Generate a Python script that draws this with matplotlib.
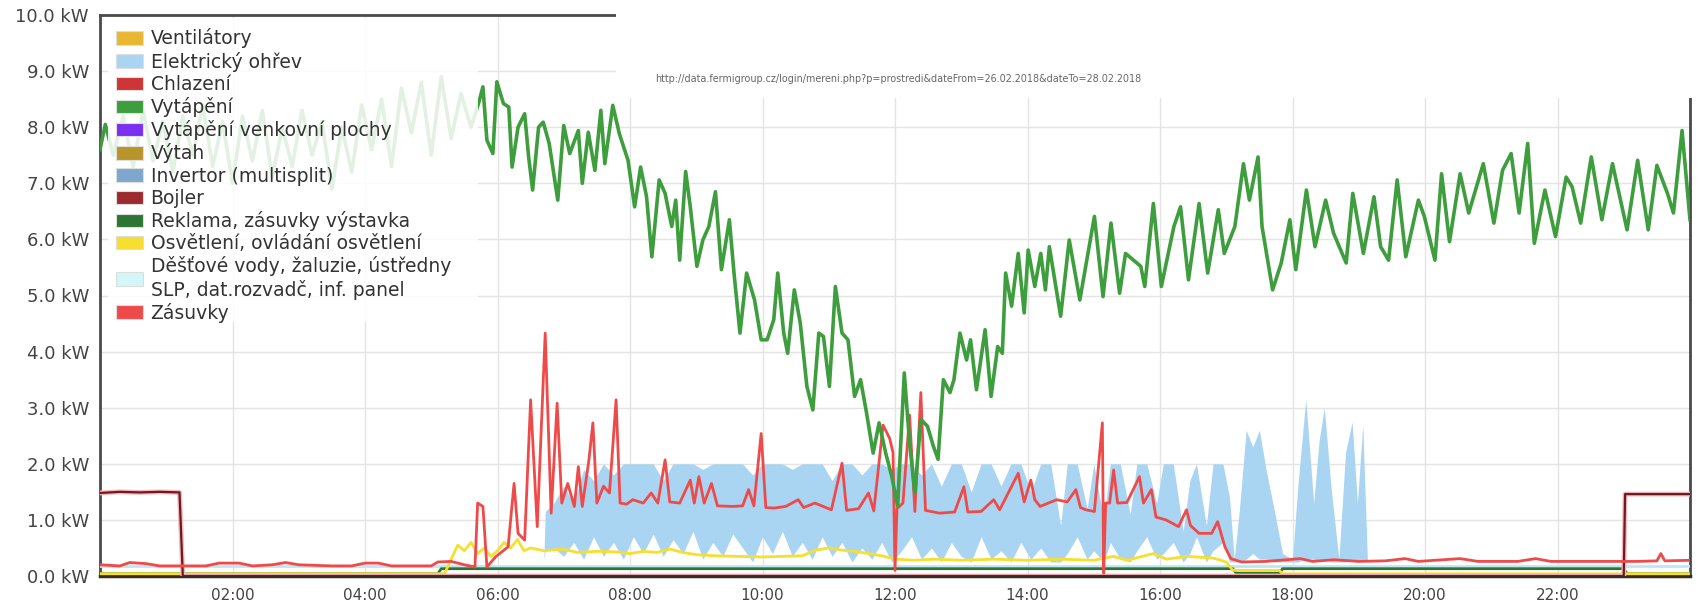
import matplotlib
matplotlib.use("Agg")
import matplotlib.pyplot as plt
from matplotlib.patches import Patch, Rectangle

# time in hours, power in kW

# Vytápění
heat_t = [0.0, 0.08, 0.2, 0.35, 0.5, 0.65, 0.8, 0.95, 1.1, 1.25, 1.4, 1.55, 1.7, 1.85,
          2.0, 2.15, 2.3, 2.45, 2.6, 2.75, 2.9, 3.05, 3.2, 3.35, 3.5, 3.65, 3.8, 3.95,
          4.1, 4.25, 4.4, 4.55, 4.7, 4.85, 5.0, 5.15, 5.3, 5.45, 5.6,
          5.72, 5.78, 5.84, 5.93, 5.99, 6.09, 6.17, 6.22, 6.31, 6.41, 6.47, 6.53, 6.62,
          6.69, 6.78, 6.91, 7.00, 7.09, 7.22, 7.28, 7.37, 7.47, 7.56, 7.62, 7.74, 7.84,
          7.97, 8.07, 8.16, 8.25, 8.33, 8.44, 8.53, 8.63, 8.69, 8.75, 8.84, 8.91, 9.01,
          9.10, 9.19, 9.29, 9.38, 9.50, 9.57, 9.66, 9.76, 9.88, 9.98, 10.07, 10.17,
          10.23, 10.32, 10.38, 10.48, 10.57, 10.67, 10.76, 10.85, 10.92, 11.01, 11.10,
          11.20, 11.29, 11.39, 11.48, 11.57, 11.67, 11.76, 11.86, 11.95, 12.04, 12.14,
          12.22, 12.30, 12.39, 12.49, 12.58, 12.65, 12.73, 12.83, 12.89, 12.98, 13.08,
          13.14, 13.23, 13.36, 13.45, 13.55, 13.62, 13.67, 13.76, 13.86, 13.95, 14.01,
          14.11, 14.2, 14.27, 14.33, 14.50, 14.63, 14.79, 15.01, 15.14, 15.26, 15.39,
          15.48, 15.71, 15.77, 15.90, 16.02, 16.21, 16.31, 16.43, 16.59, 16.72, 16.88,
          16.97, 17.13, 17.26, 17.35, 17.48, 17.54, 17.70, 17.83, 17.96, 18.05, 18.21,
          18.34, 18.50, 18.62, 18.81, 18.91, 19.07, 19.23, 19.33, 19.45, 19.58, 19.71,
          19.90, 19.99, 20.15, 20.25, 20.37, 20.53, 20.66, 20.88, 21.04, 21.17, 21.30,
          21.42, 21.55, 21.65, 21.81, 21.97, 22.13, 22.22, 22.35, 22.51, 22.67, 22.83,
          23.05, 23.21, 23.37, 23.50, 23.66, 23.75, 23.88, 24.0]
heat_v = [7.6, 8.05, 7.5, 8.2, 7.3, 8.3, 7.4, 8.1, 7.2, 8.2, 7.5, 8.4, 7.3, 8.1,
          7.0, 8.2, 7.4, 8.3, 7.1, 8.0, 7.3, 8.3, 7.5, 8.1, 6.9, 8.0, 7.2, 8.4,
          7.6, 8.5, 7.3, 8.7, 7.9, 8.8, 7.5, 8.9, 7.8, 8.6, 8.0,
          8.45, 8.72, 7.77, 7.53, 8.81, 8.42, 8.36, 7.29, 8.00, 8.24, 7.47, 6.88, 8.00,
          8.09, 7.71, 6.70, 8.03, 7.53, 7.94, 7.00, 7.91, 7.23, 8.30, 7.35, 8.39, 7.88,
          7.41, 6.58, 7.29, 6.76, 5.69, 7.06, 6.82, 6.23, 6.70, 5.63, 7.21, 6.58, 5.52,
          5.99, 6.23, 6.85, 5.46, 6.35, 5.40, 4.33, 5.40, 4.92, 4.21, 4.21, 4.57,
          5.40, 4.33, 3.97, 5.10, 4.51, 3.38, 2.96, 4.33, 4.27, 3.38, 5.16,
          4.33, 4.21, 3.20, 3.50, 2.91, 2.19, 2.73, 2.19, 1.78, 1.25, 3.62,
          2.37, 1.48, 2.79, 2.67, 2.31, 2.08, 3.50, 3.27, 3.50, 4.33, 3.85,
          4.21, 3.32, 4.39, 3.20, 4.09, 3.97, 5.40, 4.81, 5.75, 4.69, 5.81,
          5.16, 5.75, 5.10, 5.87, 4.63, 5.99, 4.92, 6.41, 4.98, 6.29, 5.04,
          5.75, 5.52, 5.16, 6.64, 5.16, 6.23, 6.58, 5.28, 6.64, 5.40, 6.53,
          5.75, 6.23, 7.35, 6.70, 7.47, 6.23, 5.10, 5.58, 6.35, 5.46, 6.88,
          5.87, 6.70, 6.11, 5.58, 6.82, 5.75, 6.76, 5.87, 5.63, 7.06, 5.69,
          6.70, 6.41, 5.63, 7.17, 5.96, 7.17, 6.47, 7.35, 6.29, 7.23, 7.53,
          6.47, 7.71, 5.93, 6.88, 6.05, 7.11, 6.94, 6.29, 7.47, 6.35, 7.35,
          6.17, 7.41, 6.17, 7.32, 6.82, 6.47, 7.94, 6.35]

# Zásuvky
sock_t = [0.0, 0.3, 0.45, 0.7, 0.9, 1.2, 1.6, 1.8, 2.1, 2.3, 2.6, 2.8, 3.0, 3.5, 3.8,
          4.0, 4.2, 4.4, 4.7, 5.0, 5.1, 5.3, 5.5, 5.66, 5.7, 5.78, 5.84, 5.97, 6.16,
          6.25, 6.31, 6.41, 6.5, 6.6, 6.72, 6.81, 6.9, 6.97, 7.06, 7.16, 7.22, 7.28,
          7.38, 7.44, 7.5, 7.6, 7.69, 7.79, 7.85, 7.95, 8.04, 8.2, 8.32, 8.42, 8.53,
          8.6, 8.75, 8.91, 8.97, 9.04, 9.12, 9.23, 9.32, 9.55, 9.7, 9.79, 9.87, 9.98,
          10.05, 10.17, 10.35, 10.54, 10.62, 10.79, 11.04, 11.2, 11.27, 11.45, 11.6,
          11.68, 11.82, 11.92, 11.97, 12.0, 12.03, 12.12, 12.22, 12.3, 12.39, 12.46,
          12.67, 12.9, 13.04, 13.1, 13.3, 13.49, 13.58, 13.86, 13.95, 14.05, 14.11,
          14.19, 14.44, 14.6, 14.73, 14.8, 14.88, 15.01, 15.13, 15.15, 15.18, 15.24,
          15.3, 15.36, 15.5, 15.69, 15.75, 15.87, 15.94, 16.09, 16.28, 16.4, 16.46,
          16.59, 16.78, 16.87, 16.98, 17.07, 17.23, 17.6, 18.12, 18.3, 18.63, 19.0,
          19.4, 19.7, 19.9, 20.53, 20.8, 21.4, 21.67, 21.9, 23.2, 23.5, 23.56, 23.62,
          24.0]
sock_v = [0.2, 0.18, 0.24, 0.22, 0.18, 0.18, 0.18, 0.23, 0.23, 0.18, 0.2, 0.24, 0.2,
          0.18, 0.18, 0.23, 0.23, 0.18, 0.18, 0.18, 0.25, 0.26, 0.2, 0.16, 1.3, 1.24,
          0.16, 0.34, 0.52, 1.65, 0.76, 0.64, 3.14, 0.88, 4.33, 1.12, 3.08, 1.3, 1.65,
          1.24, 1.95, 1.24, 2.07, 2.73, 1.3, 1.6, 1.48, 3.14, 1.3, 1.28, 1.36, 1.3,
          1.48, 1.3, 2.07, 1.32, 1.3, 1.71, 1.3, 1.77, 1.3, 1.65, 1.25, 1.24, 1.25,
          1.54, 1.25, 2.54, 1.22, 1.21, 1.24, 1.36, 1.22, 1.3, 1.18, 2.01, 1.17, 1.2,
          1.48, 1.16, 2.69, 2.45, 2.2, 0.1, 1.2, 1.3, 2.87, 1.15, 3.27, 1.17, 1.12,
          1.14, 1.59, 1.14, 1.15, 1.36, 1.18, 1.83, 1.32, 1.71, 1.36, 1.24, 1.36,
          1.32, 1.54, 1.22, 1.18, 1.15, 2.73, 0.05, 1.3, 1.3, 1.89, 1.3, 1.31, 1.77,
          1.3, 1.54, 1.05, 1.0, 0.88, 1.18, 0.9, 0.76, 0.76, 0.97, 0.52, 0.31, 0.25,
          0.26, 0.31, 0.26, 0.29, 0.26, 0.27, 0.31, 0.26, 0.31, 0.26, 0.26, 0.31, 0.26,
          0.26, 0.27, 0.4, 0.27, 0.28]

# Elektrický ohřev (upper / lower edge of the dense band)
elec_t = [6.70, 6.72, 6.85, 7.0, 7.15, 7.3, 7.45, 7.6, 7.75, 7.9, 8.05, 8.2, 8.35, 8.5,
          8.65, 8.8, 8.95, 9.1, 9.25, 9.4, 9.55, 9.7, 9.85, 10.0, 10.15, 10.3, 10.45,
          10.6, 10.75, 10.9, 11.05, 11.2, 11.35, 11.5, 11.65, 11.8, 11.95, 12.1, 12.25,
          12.4, 12.55, 12.7, 12.85, 13.0, 13.15, 13.3, 13.45, 13.6, 13.75, 13.9, 14.05,
          14.2, 14.35, 14.5, 14.6, 14.75, 14.9, 15.0, 15.15, 15.25, 15.4, 15.55, 15.65,
          15.8, 15.95, 16.05, 16.2, 16.35, 16.45, 16.55, 16.7, 16.8, 16.95, 17.05,
          17.12, 17.2, 17.3, 17.4, 17.5, 17.6, 17.72, 17.85, 18.0, 18.08, 18.2, 18.32,
          18.4, 18.48, 18.58, 18.7, 18.8, 18.9, 18.98, 19.06, 19.13]
elec_hi = [0.3, 1.15, 1.3, 1.6, 1.3, 1.9, 1.7, 2.0, 1.8, 2.0, 2.0, 2.0, 2.0, 1.7,
           2.0, 2.0, 2.0, 1.9, 2.0, 2.0, 2.0, 2.0, 1.8, 2.0, 2.0, 2.0, 1.9,
           2.0, 2.0, 2.0, 1.7, 2.0, 2.0, 1.8, 2.0, 2.0, 1.9, 2.0, 2.0,
           1.8, 2.0, 1.6, 2.0, 2.0, 1.5, 2.0, 2.0, 1.6, 2.0, 2.0, 1.5,
           2.0, 2.0, 0.9, 2.0, 2.0, 1.2, 2.0, 1.0, 2.0, 2.0, 1.1, 2.0,
           2.0, 1.3, 2.0, 2.0, 0.8, 1.7, 2.0, 0.9, 2.0, 2.0, 1.4,
           0.3, 1.2, 2.6, 2.3, 2.6, 1.9, 1.2, 0.4, 0.3, 1.6, 3.15, 1.3,
           2.4, 3.0, 1.6, 0.3, 2.2, 2.75, 1.3, 2.7, 0.3]
elec_lo = [0.3, 0.45, 0.5, 0.35, 0.6, 0.3, 0.7, 0.35, 0.6, 0.3, 0.7, 0.4, 0.75, 0.35,
           0.65, 0.4, 0.8, 0.3, 0.6, 0.35, 0.75, 0.5, 0.25, 0.7, 0.4, 0.8, 0.35,
           0.6, 0.3, 0.7, 0.35, 0.6, 0.25, 0.5, 0.3, 0.6, 0.25, 0.45, 0.7,
           0.3, 0.5, 0.25, 0.6, 0.35, 0.25, 0.7, 0.3, 0.45, 0.25, 0.6, 0.3,
           0.5, 0.25, 0.25, 0.4, 0.7, 0.3, 0.45, 0.25, 0.6, 0.3, 0.25, 0.45,
           0.7, 0.3, 0.4, 0.6, 0.25, 0.4, 0.7, 0.25, 0.45, 0.6, 0.25,
           0.25, 0.25, 0.3, 0.4, 0.3, 0.3, 0.25, 0.25, 0.25, 0.25, 0.3, 0.3,
           0.25, 0.3, 0.25, 0.25, 0.25, 0.3, 0.25, 0.3, 0.25]

# Osvětlení, ovládání osvětlení
light_t = [0.0, 5.2, 5.3, 5.4, 5.5, 5.6, 5.7, 5.8, 5.9, 6.0, 6.1, 6.2, 6.3, 6.4, 6.5,
           6.7, 7.0, 7.2, 7.5, 7.8, 8.0, 8.2, 8.4, 8.6, 8.8, 9.0, 9.3, 9.6, 10.0, 10.3,
           10.6, 10.8, 11.0, 11.2, 11.4, 11.6, 11.8, 12.0, 12.3, 12.6, 13.0, 13.5, 14.0,
           14.5, 15.0, 15.3, 15.5, 15.9, 16.1, 16.4, 16.8, 17.0, 17.1, 17.8, 17.85, 24.0]
light_v = [0.04, 0.04, 0.3, 0.55, 0.45, 0.6, 0.4, 0.5, 0.35, 0.45, 0.6, 0.5, 0.65, 0.45,
           0.5, 0.45, 0.48, 0.42, 0.44, 0.43, 0.40, 0.44, 0.42, 0.48, 0.42, 0.38, 0.36,
           0.35, 0.34, 0.35, 0.36, 0.46, 0.5, 0.46, 0.44, 0.40, 0.36, 0.30, 0.28, 0.30,
           0.28, 0.30, 0.28, 0.30, 0.28, 0.35, 0.28, 0.4, 0.3, 0.35, 0.32, 0.25, 0.1,
           0.1, 0.04, 0.04]

# Reklama, zásuvky výstavka
adv_t = [0.0, 5.1, 5.15, 17.1, 17.15, 17.8, 17.85, 23.0, 23.05, 24.0]
adv_v = [0.04, 0.04, 0.13, 0.13, 0.05, 0.05, 0.13, 0.13, 0.04, 0.04]

# Bojler
boiler_t = [0.0, 0.3, 0.6, 0.9, 1.2, 1.25, 23.0, 23.02, 24.0]
boiler_v = [1.48, 1.5, 1.49, 1.5, 1.49, 0.0, 0.0, 1.46, 1.46]

# Děšťové vody, žaluzie, ústředny SLP, dat.rozvadč, inf. panel
rain_t = [0.0, 24.0]
rain_v = [0.17, 0.17]

# series that stay at zero all day
zero_t = [0.0, 24.0]
zero_v = [0.0, 0.0]

labels = ["Ventilátory", "Elektrický ohřev", "Chlazení", "Vytápění",
          "Vytápění venkovní plochy", "Výtah", "Invertor (multisplit)", "Bojler",
          "Reklama, zásuvky výstavka", "Osvětlení, ovládání osvětlení",
          "Děšťové vody, žaluzie, ústředny\nSLP, dat.rozvadč, inf. panel", "Zásuvky"]
colors = ["#e9b731", "#a9d5f2", "#cf3535", "#3e9e3e", "#7b2ff0", "#b8952b",
          "#7fa6cc", "#9c2a2e", "#2e7533", "#f6df2e", "#d3f6f8", "#ef4a4a"]

hours = [2, 4, 6, 8, 10, 12, 14, 16, 18, 20, 22]
kw_ticks = [0, 1, 2, 3, 4, 5, 6, 7, 8, 9, 10]
url = "http://data.fermigroup.cz/login/mereni.php?p=prostredi&dateFrom=26.02.2018&dateTo=28.02.2018"

fig = plt.figure(figsize=(16.98, 6.01), dpi=100)
ax = fig.add_axes([100 / 1698, 25 / 601, 1590 / 1698, 561 / 601])

ax.plot(zero_t, zero_v, color=colors[0], lw=2)
ax.plot(zero_t, zero_v, color=colors[2], lw=2)
ax.plot(zero_t, zero_v, color=colors[4], lw=2)
ax.plot(zero_t, zero_v, color=colors[5], lw=2)
ax.plot(zero_t, zero_v, color=colors[6], lw=2)
ax.fill_between(elec_t, elec_lo, elec_hi, color=colors[1], lw=0, zorder=2)
ax.plot(rain_t, rain_v, color="#bfe6f2", lw=2, zorder=3)
ax.plot(adv_t, adv_v, color=colors[8], lw=2, zorder=3)
ax.plot(light_t, light_v, color=colors[9], lw=2, zorder=3)
ax.plot(boiler_t, boiler_v, color="#f2b8bd", lw=3.5, zorder=3)
ax.plot(boiler_t, boiler_v, color="#6e1a20", lw=1.6, zorder=3)
ax.plot(sock_t, sock_v, color=colors[11], lw=2, zorder=4)
ax.plot(heat_t, heat_v, color=colors[3], lw=2.6, zorder=5)

ax.set_xlim(0, 24)
ax.set_ylim(0, 10)
ax.set_xticks(hours)
ax.set_xticklabels(["%02d:00" % h for h in hours])
ax.set_yticks(kw_ticks)
ax.set_yticklabels(["%.1f kW" % k for k in kw_ticks])
ax.tick_params(length=0, colors="#444444")
ax.tick_params(axis="x", labelsize=11, pad=9)
ax.tick_params(axis="y", labelsize=13, pad=8)
ax.grid(True, color="#e4e4e4", lw=1)
ax.set_axisbelow(True)
for side in ["left", "right", "top"]:
    ax.spines[side].set_color("#4a4a4a")
    ax.spines[side].set_linewidth(2)
ax.spines["bottom"].set_color("#3a2a2a")
ax.spines["bottom"].set_linewidth(2.5)

# semi-transparent legend background
ax.add_patch(Rectangle((0.005, 0.452), 0.233, 0.542, transform=ax.transAxes,
                       facecolor="white", edgecolor="none", alpha=0.86, zorder=9))
handles = [Patch(facecolor=c, edgecolor="#dddddd", lw=0.8) for c in colors]
leg = ax.legend(handles, labels, loc="upper left", bbox_to_anchor=(0.010, 0.976),
                borderaxespad=0, fontsize=13.5, labelspacing=0.17, handlelength=1.45,
                handleheight=0.72, handletextpad=0.4, borderpad=0, frameon=False)
for txt in leg.get_texts():
    txt.set_color("#333333")
leg.set_zorder(10)

# white band over the top right of the plot, with the page address
fig.add_artist(Rectangle((616 / 1698, 1 - 98 / 601), 1, 98 / 601,
                         transform=fig.transFigure, facecolor="white",
                         edgecolor="none", zorder=20))
fig.text(655 / 1698, 1 - 79 / 601, url, fontsize=6.9, color="#666666",
         va="center", ha="left", zorder=21)

fig.savefig("out.png", dpi=100, facecolor="white")
